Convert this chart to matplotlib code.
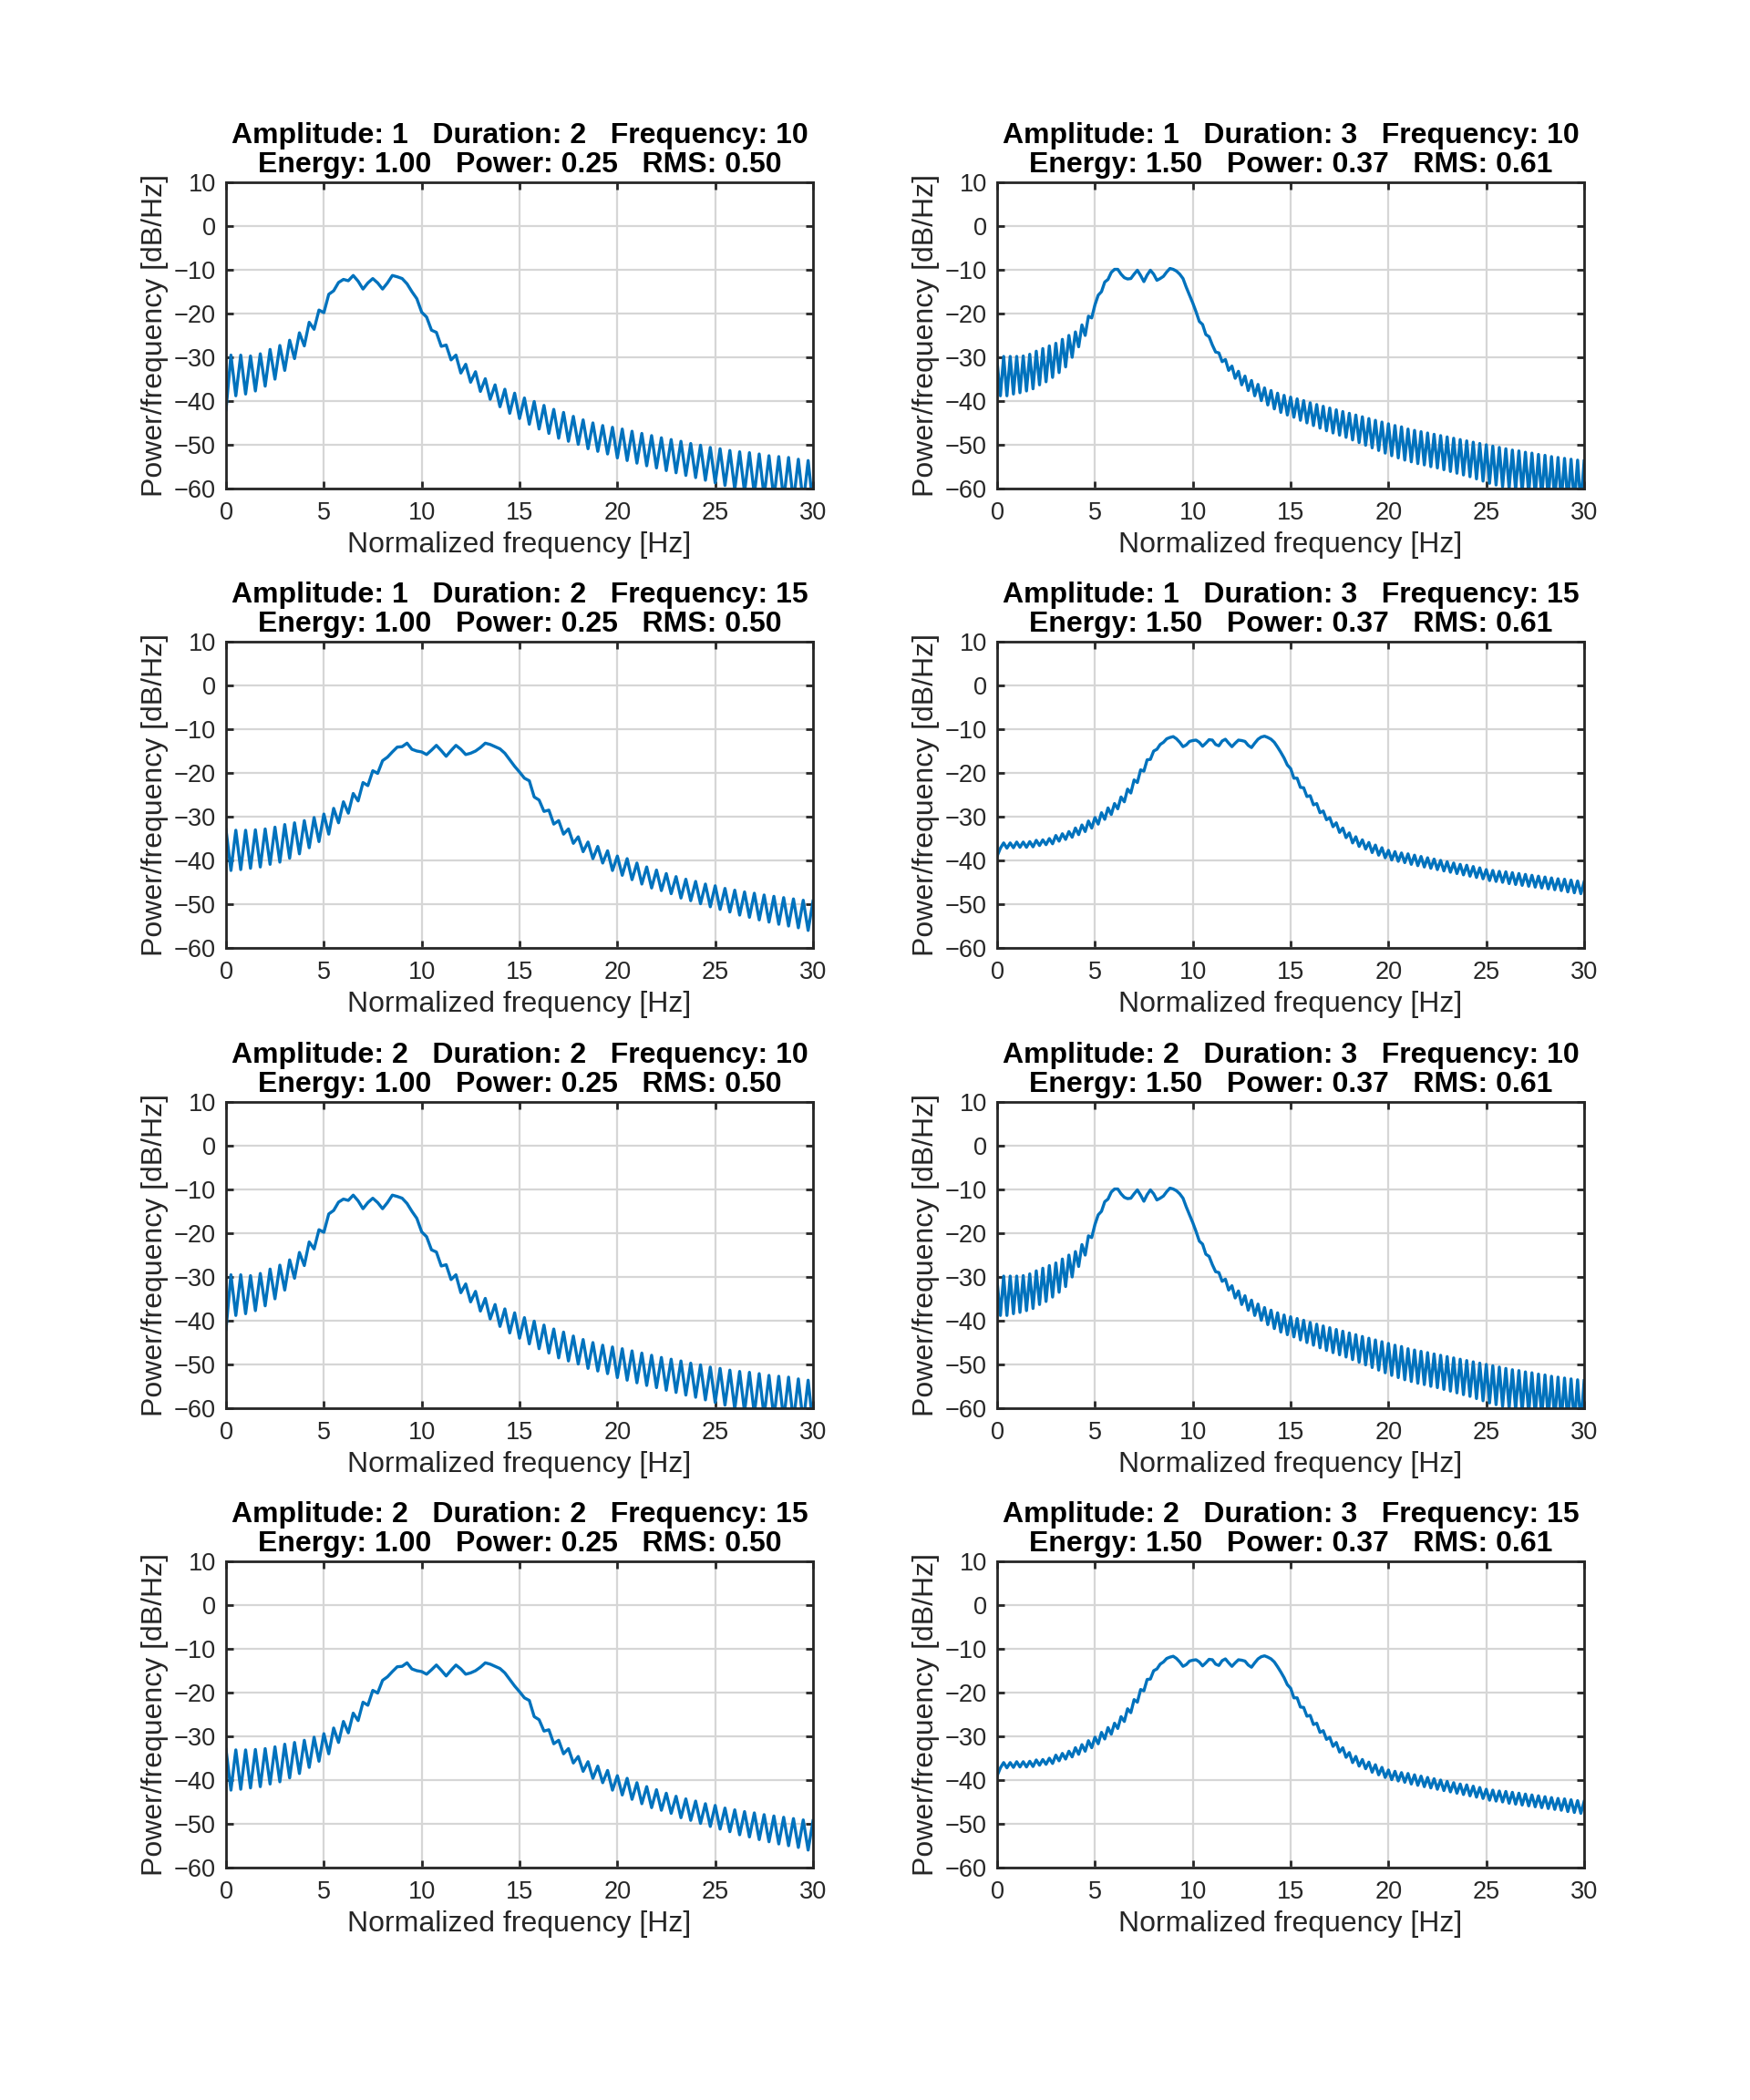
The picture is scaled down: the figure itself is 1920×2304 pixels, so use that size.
#!/usr/bin/env python3
"""
Power spectral density of the test signals, 4 x 2 grid of periodograms.
"""
import matplotlib
matplotlib.use('Agg')
import matplotlib.pyplot as plt
import numpy as np

plt.rcParams['font.family'] = ['Liberation Sans', 'DejaVu Sans']

BLUE = '#0072BD'
DARK = '#262626'
GRID = '#d6d6d6'

# PSD [dB/Hz], one row per Hz.
# duration 2 s -> sample every 0.25 Hz, duration 3 s -> every 1/6 Hz
psd_d2_f10 = [
    -42.0, -29.5, -38.8, -29.5,
    -38.4, -29.7, -37.7, -29.2,
    -36.6, -28.2, -35.0, -27.3,
    -33.0, -26.1, -30.3, -24.4,
    -27.4, -22.0, -23.6, -19.2,
    -19.8, -15.6, -14.8, -12.9,
    -12.2, -12.5, -11.3, -12.6,
    -14.4, -13.0, -12.0, -13.0,
    -14.4, -13.0, -11.3, -11.6,
    -12.0, -13.2, -15.0, -16.6,
    -19.7, -20.8, -23.8, -24.3,
    -27.5, -27.2, -30.6, -29.5,
    -33.6, -31.6, -35.7, -33.3,
    -37.8, -34.9, -39.6, -36.3,
    -41.3, -37.3, -42.8, -38.2,
    -44.0, -39.3, -45.3, -40.1,
    -46.4, -41.0, -47.4, -41.9,
    -48.5, -42.6, -49.2, -43.5,
    -49.9, -44.3, -50.9, -45.0,
    -51.5, -45.6, -52.1, -46.0,
    -53.0, -46.4, -53.6, -46.9,
    -54.2, -47.4, -54.8, -47.9,
    -55.3, -48.4, -55.9, -48.8,
    -56.4, -49.2, -57.0, -49.7,
    -57.5, -50.1, -58.1, -50.6,
    -58.7, -50.9, -59.3, -51.3,
    -60.2, -51.6, -60.8, -51.8,
    -61.3, -52.1, -61.8, -52.5,
    -62.3, -52.7, -62.7, -52.9,
    -63.1, -53.3, -63.5, -53.6,
    -64.0,
]

psd_d3_f10 = [
    -31.0, -38.8, -29.8, -38.8, -29.8, -38.4,
    -29.8, -38.1, -29.7, -37.7, -29.3, -37.2,
    -28.6, -36.3, -28.0, -35.6, -27.4, -34.6,
    -26.8, -33.5, -25.9, -32.2, -25.0, -30.0,
    -24.2, -27.6, -22.6, -25.0, -20.6, -21.0,
    -18.0, -15.8, -15.0, -12.8, -12.2, -10.6,
    -9.9, -9.9, -11.0, -11.8, -12.1, -12.0,
    -11.0, -10.1, -11.3, -12.7, -11.2, -10.1,
    -11.0, -12.4, -12.0, -11.5, -10.5, -9.7,
    -9.9, -10.3, -11.0, -12.0, -14.0, -15.8,
    -17.6, -19.6, -21.8, -22.5, -24.8, -25.3,
    -27.2, -28.8, -29.0, -31.0, -30.5, -33.0,
    -32.0, -34.8, -33.2, -36.3, -34.3, -37.6,
    -35.3, -38.8, -36.2, -39.9, -37.0, -40.9,
    -37.6, -41.8, -38.2, -42.6, -38.7, -43.2,
    -39.1, -43.7, -39.5, -44.4, -39.9, -45.0,
    -40.4, -45.6, -40.8, -46.2, -41.2, -46.8,
    -41.6, -47.3, -42.0, -47.8, -42.4, -48.3,
    -42.8, -48.9, -43.2, -49.5, -43.6, -50.1,
    -44.0, -50.7, -44.4, -51.3, -44.8, -51.9,
    -45.2, -52.5, -45.6, -53.0, -45.9, -53.5,
    -46.4, -53.9, -46.7, -54.3, -47.0, -54.6,
    -47.3, -55.0, -47.6, -55.3, -47.9, -55.7,
    -48.2, -56.1, -48.5, -56.5, -48.8, -56.9,
    -49.1, -57.3, -49.4, -57.8, -49.7, -58.3,
    -50.0, -58.8, -50.3, -59.2, -50.6, -59.6,
    -50.9, -60.0, -51.2, -60.4, -51.4, -60.8,
    -51.7, -61.2, -51.9, -61.6, -52.2, -62.0,
    -52.4, -62.3, -52.7, -62.6, -52.9, -62.9,
    -53.1, -63.2, -53.3, -63.5, -53.5, -63.8,
    -53.7,
]

psd_d2_f15 = [
    -33.0, -42.3, -33.1, -42.1,
    -33.1, -41.8, -33.0, -41.5,
    -32.8, -40.9, -32.4, -40.4,
    -31.8, -39.5, -31.4, -38.5,
    -30.9, -37.1, -30.2, -35.7,
    -29.4, -34.0, -28.1, -31.4,
    -26.6, -29.2, -24.7, -26.4,
    -22.2, -22.9, -19.5, -20.1,
    -17.2, -16.4, -15.2, -14.1,
    -14.0, -13.2, -14.6, -15.0,
    -15.2, -15.8, -14.8, -13.7,
    -14.9, -16.2, -14.9, -13.7,
    -14.6, -15.8, -15.5, -15.0,
    -14.2, -13.2, -13.5, -14.0,
    -14.5, -15.5, -17.0, -18.5,
    -19.8, -21.2, -21.8, -25.5,
    -26.2, -28.8, -28.5, -31.7,
    -30.9, -34.0, -32.8, -36.1,
    -34.6, -38.0, -35.8, -39.6,
    -36.8, -40.6, -37.8, -42.3,
    -39.0, -43.4, -39.6, -44.4,
    -40.6, -45.4, -41.5, -46.3,
    -42.2, -46.9, -43.0, -47.6,
    -43.7, -48.6, -44.3, -49.2,
    -44.8, -49.9, -45.4, -50.6,
    -45.8, -51.2, -46.4, -51.8,
    -46.8, -52.5, -47.2, -53.0,
    -47.5, -53.6, -47.9, -54.1,
    -48.2, -54.6, -48.5, -55.0,
    -48.8, -55.4, -49.1, -56.0,
    -49.3,
]

psd_d3_f15 = [
    -39.0, -37.2, -36.0, -37.2, -36.0, -37.1,
    -35.8, -37.0, -35.8, -37.0, -35.7, -36.9,
    -35.4, -36.6, -35.3, -36.4, -35.0, -36.2,
    -34.3, -35.6, -33.9, -35.2, -33.4, -34.7,
    -32.6, -34.1, -31.9, -33.4, -31.0, -32.6,
    -30.2, -31.7, -29.1, -30.6, -28.0, -29.5,
    -27.0, -28.2, -25.5, -26.6, -23.7, -24.6,
    -21.6, -22.2, -19.3, -19.6, -17.0, -16.9,
    -15.0, -14.6, -13.5, -13.0, -12.2, -11.9,
    -11.7, -12.2, -13.0, -14.0, -13.6, -12.8,
    -12.6, -12.5, -13.0, -13.9, -13.2, -12.4,
    -12.5, -13.5, -13.8, -12.7, -12.3, -13.2,
    -14.0, -13.2, -12.5, -12.6, -12.8, -13.7,
    -14.2, -13.2, -12.3, -11.8, -11.6, -11.9,
    -12.3, -13.0, -14.1, -15.3, -16.6, -18.2,
    -19.0, -21.2, -21.2, -23.3, -23.4, -25.4,
    -25.2, -27.3, -27.0, -29.1, -28.7, -30.7,
    -30.2, -32.3, -31.4, -33.6, -32.6, -34.8,
    -33.7, -36.0, -34.6, -36.8, -35.3, -37.4,
    -35.9, -38.2, -36.5, -38.8, -37.1, -39.4,
    -37.7, -39.9, -38.0, -40.2, -38.3, -40.5,
    -38.5, -40.9, -38.8, -41.2, -39.1, -41.5,
    -39.4, -41.8, -39.7, -42.1, -40.0, -42.4,
    -40.3, -42.7, -40.6, -43.0, -40.9, -43.3,
    -41.1, -43.6, -41.4, -43.9, -41.7, -44.2,
    -42.1, -44.6, -42.3, -44.8, -42.5, -45.0,
    -42.6, -45.3, -42.8, -45.5, -43.0, -45.7,
    -43.2, -45.9, -43.4, -46.1, -43.6, -46.3,
    -43.8, -46.5, -44.0, -46.7, -44.2, -46.9,
    -44.3, -47.2, -44.5, -47.4, -44.7, -47.6,
    -44.9,
]

# panel parameters, row by row (left column duration 2, right column duration 3)
amplitudes = [1, 1, 1, 1, 2, 2, 2, 2]
durations = [2, 3, 2, 3, 2, 3, 2, 3]
frequencies = [10, 10, 15, 15, 10, 10, 15, 15]
energies = [1.00, 1.50, 1.00, 1.50, 1.00, 1.50, 1.00, 1.50]
powers = [0.25, 0.37, 0.25, 0.37, 0.25, 0.37, 0.25, 0.37]
rms_values = [0.50, 0.61, 0.50, 0.61, 0.50, 0.61, 0.50, 0.61]
curves = [psd_d2_f10, psd_d3_f10, psd_d2_f15, psd_d3_f15,
          psd_d2_f10, psd_d3_f10, psd_d2_f15, psd_d3_f15]

x_ticks = [0, 5, 10, 15, 20, 25, 30]
y_ticks = [-60, -50, -40, -30, -20, -10, 0, 10]

W, H = 1920, 2304
COL_LEFT = [248, 1094]
ROW_TOP = [200, 704, 1209, 1713]
AX_W, AX_H = 644, 336


def main():
    fig = plt.figure(figsize=(W / 100, H / 100), dpi=100)
    for i in range(8):
        row, col = divmod(i, 2)
        left = COL_LEFT[col] / W
        bottom = 1 - (ROW_TOP[row] + AX_H) / H
        ax = fig.add_axes([left, bottom, AX_W / W, AX_H / H])

        vals = np.array(curves[i])
        step = 1.0 / (2 * durations[i])
        freq = np.arange(len(vals)) * step
        ax.plot(freq, vals, color=BLUE, lw=2.4, solid_joinstyle='round')

        ax.set_xlim(0, 30)
        ax.set_ylim(-60, 10)
        ax.set_xticks(x_ticks)
        ax.set_yticks(y_ticks)
        ax.set_axisbelow(True)
        ax.grid(True, color=GRID, lw=1.6)
        for sp in ax.spines.values():
            sp.set_color(DARK)
            sp.set_linewidth(2.0)
        ax.tick_params(direction='in', length=6, width=2.0, color=DARK,
                       labelcolor=DARK, labelsize=19.5, top=True, right=True)
        ax.tick_params(axis='y', pad=8)
        ax.tick_params(axis='x', pad=10)

        title = ('Amplitude: {}   Duration: {}   Frequency: {}\n'
                 'Energy: {:.2f}   Power: {:.2f}   RMS: {:.2f}').format(
            amplitudes[i], durations[i], frequencies[i],
            energies[i], powers[i], rms_values[i])
        ax.set_title(title, fontsize=23, fontweight='bold', pad=8,
                     linespacing=1.1)
        ax.set_xlabel('Normalized frequency [Hz]', fontsize=23, color=DARK,
                      labelpad=5)
        ax.set_ylabel('Power/frequency [dB/Hz]', fontsize=23, color=DARK,
                      labelpad=4)

    fig.savefig('out.png', dpi=100, facecolor='white')


if __name__ == '__main__':
    main()
